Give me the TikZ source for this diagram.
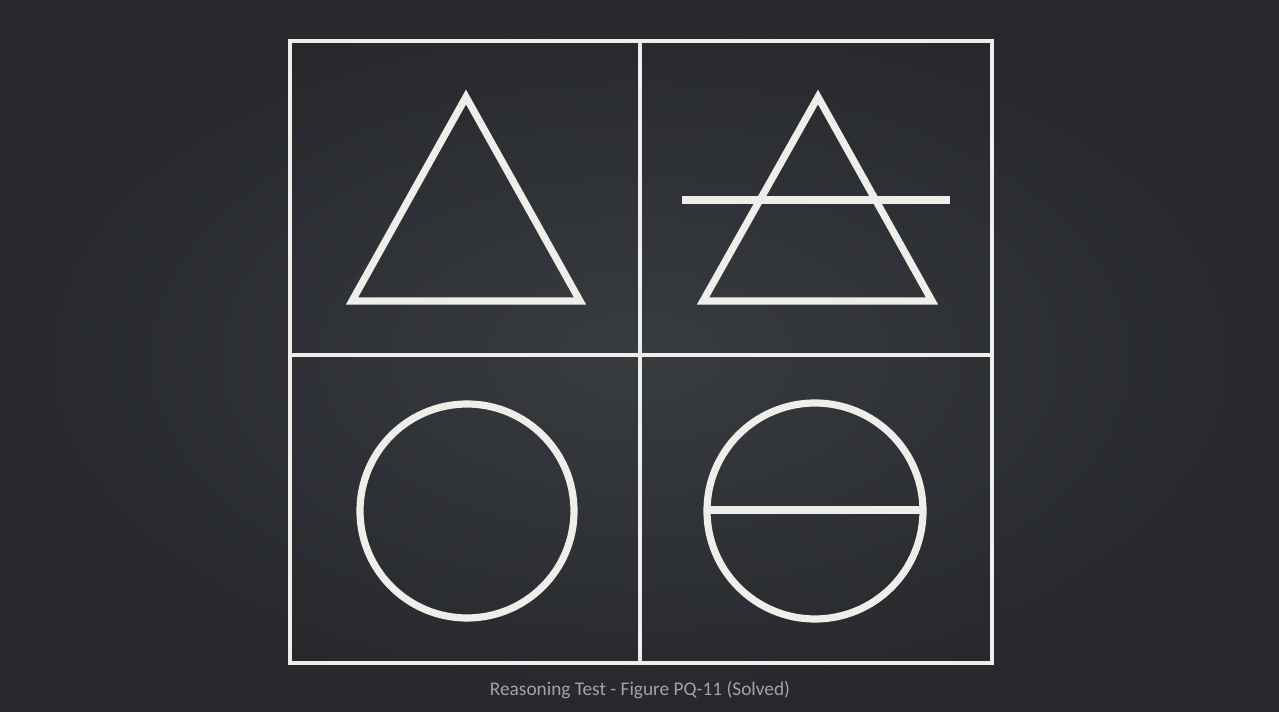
\documentclass[tikz,border=0pt]{standalone}
\usepackage{fontspec}
\setmainfont{Carlito}
\usetikzlibrary{positioning,shadings}
\definecolor{bgdark}{HTML}{26282C}
\definecolor{bgmid}{HTML}{383B40}
\definecolor{chalk}{HTML}{EFEEEA}
\definecolor{capgrey}{HTML}{A3A3A3}
\tikzset{
  pq frame/.style={draw=chalk, line width=2pt},
  pq shape/.style={draw=chalk, line width=4.1pt, line join=miter},
  pq bar/.style={draw=chalk, line width=4.1pt, line cap=butt},
  pq cap/.style={font=\fontsize{11}{13}\selectfont, text=capgrey, inner sep=0pt},
}
\begin{document}
\begin{tikzpicture}[x=0.02cm, y=-0.02cm]
  % background with a soft vignette
  \shade[inner color=bgmid, outer color=bgdark] (0,0) rectangle (1279,712);
  \useasboundingbox (0,0) rectangle (1279,712);
  % grid of four cells
  \draw[pq frame] (290,41) rectangle (992,663);
  \draw[pq frame] (640,41) -- (640,663);
  \draw[pq frame] (290,355) -- (992,355);
  % top row: triangles
  \draw[pq shape] (466,97) -- (352,301) -- (580,301) -- cycle;
  \draw[pq shape] (818,97) -- (703,301) -- (932,301) -- cycle;
  \draw[pq bar] (682,200) -- (950,200);
  % bottom row: circles
  \draw[pq shape] (467,511) circle[radius=107];
  \draw[pq shape] (815,511) circle[radius=108];
  \draw[pq bar] (709,510) -- (921,510);
  % caption
  \node[pq cap] (caption) at (640,690) {Reasoning Test - Figure PQ-11 (Solved)};
\end{tikzpicture}
\end{document}
